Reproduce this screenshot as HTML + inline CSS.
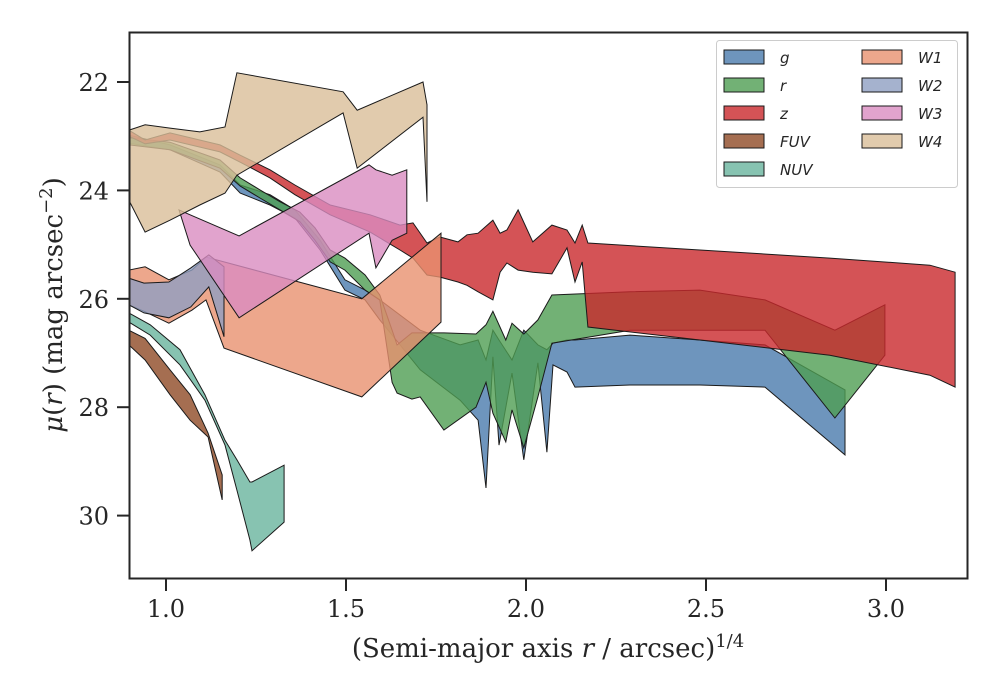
<!DOCTYPE html>
<html><head><meta charset="utf-8"><style>
body{margin:0;background:#fff}
svg{display:block}
.tk{font-family:"DejaVu Serif","Liberation Serif",serif;font-size:24px;fill:#262626}
.lg{font-family:"DejaVu Sans","Liberation Sans",sans-serif;font-size:15px;font-style:italic;fill:#262626}
</style></head><body>
<svg id="chart" width="1000" height="700" viewBox="0 0 1000 700">
<g id="bands"></g>
<rect x="129.5" y="32.5" width="838" height="546" fill="none" stroke="#262626" stroke-width="2"/>
<g id="axes"></g>
<text class="tk" x="548" y="657" text-anchor="middle" style="font-size:26px">(Semi-major axis <tspan font-style="italic">r</tspan> / arcsec)<tspan dy="-10" style="font-size:18px">1/4</tspan></text>
<text class="tk" transform="translate(62,305) rotate(-90)" text-anchor="middle" style="font-size:26px"><tspan font-style="italic">μ</tspan>(<tspan font-style="italic">r</tspan>) (mag arcsec<tspan dy="-10" style="font-size:18px">−2</tspan><tspan dy="10">)</tspan></text>
<g id="legend"></g>
</svg>
<script>
const xTicks=[1.0,1.5,2.0,2.5,3.0];
const yTicks=[22,24,26,28,30];
const bandNames=["g","r","z","FUV","NUV","W1","W2","W3","W4"];
const bandColors=["#4a7bad","#4f9e53","#c9282c","#8f4a26","#69b49d","#e8916f","#8f9fc2","#d98cc0","#d9be98"];
const gX=[0.897,1.011,1.150,1.206,1.289,1.358,1.428,1.497,1.553,1.594,1.706,1.817,1.867,1.889,1.908,1.925,1.961,1.994,2.033,2.058,2.075,2.114,2.136,2.289,2.483,2.664,2.886];
const gUp=[22.98,23.16,23.53,23.90,24.08,24.36,24.92,25.65,25.84,26.02,26.58,26.85,26.76,27.13,26.58,26.76,27.13,26.58,26.85,26.94,26.82,26.76,26.76,26.67,26.76,26.85,27.68];
const gLo=[23.13,23.25,23.66,24.05,24.27,24.51,25.10,25.84,26.02,26.39,27.31,27.87,28.24,29.49,27.07,28.70,27.37,28.97,27.18,28.83,27.22,27.35,27.63,27.59,27.59,27.63,28.88];
const rX=[0.897,1.011,1.150,1.206,1.261,1.317,1.372,1.414,1.456,1.497,1.553,1.594,1.628,1.642,1.683,1.706,1.772,1.861,1.889,1.908,1.944,1.961,1.994,2.033,2.072,2.289,2.483,2.664,2.858,2.997];
const rUp=[23.03,23.11,23.44,23.77,23.99,24.21,24.40,24.69,25.10,25.25,25.56,25.93,26.58,26.85,26.63,26.63,26.63,26.65,26.48,26.23,26.76,26.45,26.65,26.39,25.93,25.87,25.84,26.02,26.58,26.11];
const rLo=[23.16,23.25,23.59,23.92,24.14,24.36,24.58,24.92,25.32,25.47,25.84,26.02,27.54,27.74,27.85,27.81,28.42,28.00,27.54,28.11,28.64,28.05,28.75,27.81,26.82,26.58,26.58,26.58,28.20,27.04];
const zX=[0.897,0.942,1.011,1.150,1.206,1.289,1.358,1.456,1.567,1.650,1.686,1.725,1.761,1.811,1.836,1.867,1.908,1.928,1.947,1.978,2.019,2.072,2.114,2.136,2.156,2.172,2.483,2.844,3.122,3.192];
const zUp=[22.89,23.07,22.94,23.16,23.35,23.62,23.90,24.27,24.45,24.64,24.60,24.97,24.86,24.95,24.82,24.79,24.55,24.79,24.73,24.36,24.95,24.64,24.73,24.97,24.64,24.97,25.10,25.25,25.38,25.51];
const zLo=[23.00,23.14,23.07,23.29,23.48,23.77,24.08,24.45,24.77,25.10,25.25,25.56,25.60,25.69,25.75,25.87,26.02,25.51,25.34,25.47,25.51,25.54,25.06,25.69,25.32,26.52,26.76,27.04,27.41,27.63];
const fuvX=[0.897,0.942,1.011,1.067,1.117,1.156];
const fuvUp=[26.58,26.73,27.31,27.77,28.48,29.25];
const fuvLo=[26.85,27.13,27.77,28.24,28.55,29.71];
const nuvX=[0.897,0.956,1.039,1.108,1.164,1.197,1.233,1.239,1.328];
const nuvUp=[26.26,26.48,26.94,27.77,28.61,28.97,29.38,29.38,29.07];
const nuvLo=[26.43,26.67,27.22,27.87,28.70,29.53,30.45,30.65,30.12];
const w1X=[0.897,0.942,1.008,1.072,1.111,1.161,1.544,1.764];
const w1Up=[25.47,25.41,25.65,25.47,25.23,25.32,26.00,24.79];
const w1Lo=[26.11,26.24,26.45,26.21,26.02,26.91,27.81,26.43];
const w2X=[0.897,0.939,1.008,1.069,1.119,1.161];
const w2Up=[25.62,25.71,25.69,25.43,25.19,25.41];
const w2Lo=[26.11,26.26,26.35,26.15,25.78,26.70];
const w3X=[1.036,1.067,1.203,1.564,1.583,1.628,1.669];
const w3Up=[24.36,24.45,24.84,23.53,23.62,23.72,23.62];
const w3Lo=[24.36,25.01,26.35,24.79,25.43,24.92,24.79];
const w4X=[0.897,0.942,1.011,1.094,1.164,1.197,1.492,1.531,1.714,1.725];
const w4Up=[22.89,22.79,22.85,22.92,22.83,21.83,22.18,22.52,22.00,22.42];
const w4Lo=[24.18,24.77,24.55,24.27,24.05,23.72,22.57,23.59,22.65,24.21];

const X=v=>130+(v-0.9)*360;
const Y=v=>82+(v-22)*54.2;
const NS="http://www.w3.org/2000/svg";
function mk(t,a){const e=document.createElementNS(NS,t);for(const k in a)e.setAttribute(k,a[k]);return e;}
const bands=[[gX,gUp,gLo],[rX,rUp,rLo],[zX,zUp,zLo],[fuvX,fuvUp,fuvLo],[nuvX,nuvUp,nuvLo],[w1X,w1Up,w1Lo],[w2X,w2Up,w2Lo],[w3X,w3Up,w3Lo],[w4X,w4Up,w4Lo]];
const bg=document.getElementById('bands');
bg.setAttribute('clip-path','url(#clip)');
const defs=mk('defs',{});const cp=mk('clipPath',{id:'clip'});cp.appendChild(mk('rect',{x:130,y:33,width:837,height:545}));defs.appendChild(cp);document.getElementById('chart').prepend(defs);
bands.forEach((b,i)=>{
  const [xs,up,lo]=b;let pts=[];
  for(let j=0;j<xs.length;j++)pts.push(X(xs[j]).toFixed(1)+','+Y(up[j]).toFixed(1));
  for(let j=xs.length-1;j>=0;j--)pts.push(X(xs[j]).toFixed(1)+','+Y(lo[j]).toFixed(1));
  const p=mk('polygon',{points:pts.join(' '),fill:bandColors[i],'fill-opacity':0.8,stroke:'#1a1a1a','stroke-width':1,'stroke-linejoin':'miter'});
  
  
  bg.appendChild(p);
});
const ax=document.getElementById('axes');
xTicks.forEach(t=>{
  const l=mk('line',{x1:X(t),x2:X(t),y1:579,y2:591,stroke:'#262626','stroke-width':2});
  
  
  ax.appendChild(l);
  const tx=mk('text',{x:X(t),y:617,'text-anchor':'middle',class:'tk'});tx.textContent=t.toFixed(1);
  
  
  ax.appendChild(tx);
});
yTicks.forEach(t=>{
  const l=mk('line',{x1:117,x2:129,y1:Y(t),y2:Y(t),stroke:'#262626','stroke-width':2});
  
  
  ax.appendChild(l);
  const tx=mk('text',{x:109,y:Y(t)+9,'text-anchor':'end',class:'tk'});tx.textContent=t;
  
  
  ax.appendChild(tx);
});
const lg=document.getElementById('legend');
const box=mk('rect',{x:716.5,y:40.5,width:241,height:147,rx:3,fill:'#fff','fill-opacity':0.85,stroke:'#ccc'});


lg.appendChild(box);
bandNames.forEach((n,i)=>{
  const col=i<5?0:1,row=i<5?i:i-5;
  const x0=col?862:724,y0=50+row*28;
  const r=mk('rect',{x:x0,y:y0,width:40,height:14,fill:bandColors[i],'fill-opacity':0.8,stroke:'#1a1a1a','stroke-width':1});
  
  
  lg.appendChild(r);
  const t=mk('text',{x:x0+56,y:y0+13,class:'lg'});t.textContent=n;
  
  
  lg.appendChild(t);
});
</script>
</body></html>
